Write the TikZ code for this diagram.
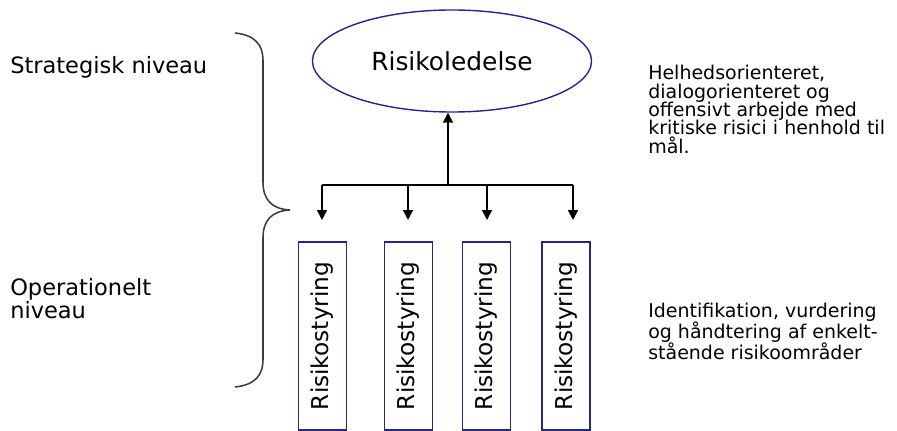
\documentclass[tikz,border=0pt]{standalone}
\usepackage{fontspec}
\setmainfont{DejaVu Sans}
\usepackage{tikz}
\usetikzlibrary{arrows.meta,shapes.geometric}
\definecolor{boxblue}{RGB}{38,38,135}
\definecolor{bracegray}{RGB}{60,60,60}

\begin{document}
\begin{tikzpicture}[x=0.025cm, y=-0.025cm,
  lead/.style={ellipse, draw=boxblue, line width=1pt, minimum width=6.975cm, minimum height=2.55cm, inner sep=0pt, font=\fontsize{17.7}{20}\selectfont},
  ctlbox/.style={rectangle, draw=boxblue, line width=1.2pt, rotate=90, minimum width=4.7cm, minimum height=1.2cm, inner sep=0pt, font=\fontsize{16.5}{19}\selectfont},
  conn/.style={line width=1.1pt, -{Triangle[width=7pt,length=7pt]}},
  every node/.style={text=black}]
\useasboundingbox (0,0) rectangle (897,431);
\node[lead] (led) at (452,61) {Risikoledelse};
\foreach \x/\n in {322.5/1,408.5/2,486.5/3,566/4}{
  \node[ctlbox] (ctl\n) at (\x,336) {Risikostyring};
}
\coordinate (hub) at (448,185);
\coordinate (t1) at (322,220);
\coordinate (t2) at (408,220);
\coordinate (t3) at (487,220);
\coordinate (t4) at (573,220);
\draw[conn] (hub) -- (hub |- led.south);
\draw[line width=1.1pt] (t1 |- hub) -- (t4 |- hub);
\foreach \n in {1,2,3,4}{
  \draw[conn] (t\n |- hub) -- (t\n);
}
% brace
\draw[bracegray, line width=1.1pt] (235,33) .. controls (255,35) and (263,45) .. (263,60) -- (263,182)
  .. controls (263,200) and (272,209) .. (290,210) .. controls (272,211) and (263,220) .. (263,238)
  -- (263,360) .. controls (263,375) and (255,385) .. (235,387);
\node[anchor=west, inner sep=0pt, font=\fontsize{16}{18}\selectfont] (strat) at (10,67) {Strategisk niveau};
\node[anchor=west, inner sep=0pt, align=left, font=\fontsize{16}{16.4}\selectfont] (oper) at (10,298.5) {Operationelt\\niveau};
\node[anchor=west, inner sep=0pt, align=left, font=\fontsize{13.5}{13.1}\selectfont] (helhed) at (648,109.5) {Helhedsorienteret,\\dialogorienteret og\\offensivt arbejde med\\kritiske risici i henhold til\\mål.};
\node[anchor=west, inner sep=0pt, align=left, font=\fontsize{13.5}{14.9}\selectfont] (ident) at (648,331) {Identifikation, vurdering\\og håndtering af enkelt-\\stående risikoområder};
\end{tikzpicture}
\end{document}
